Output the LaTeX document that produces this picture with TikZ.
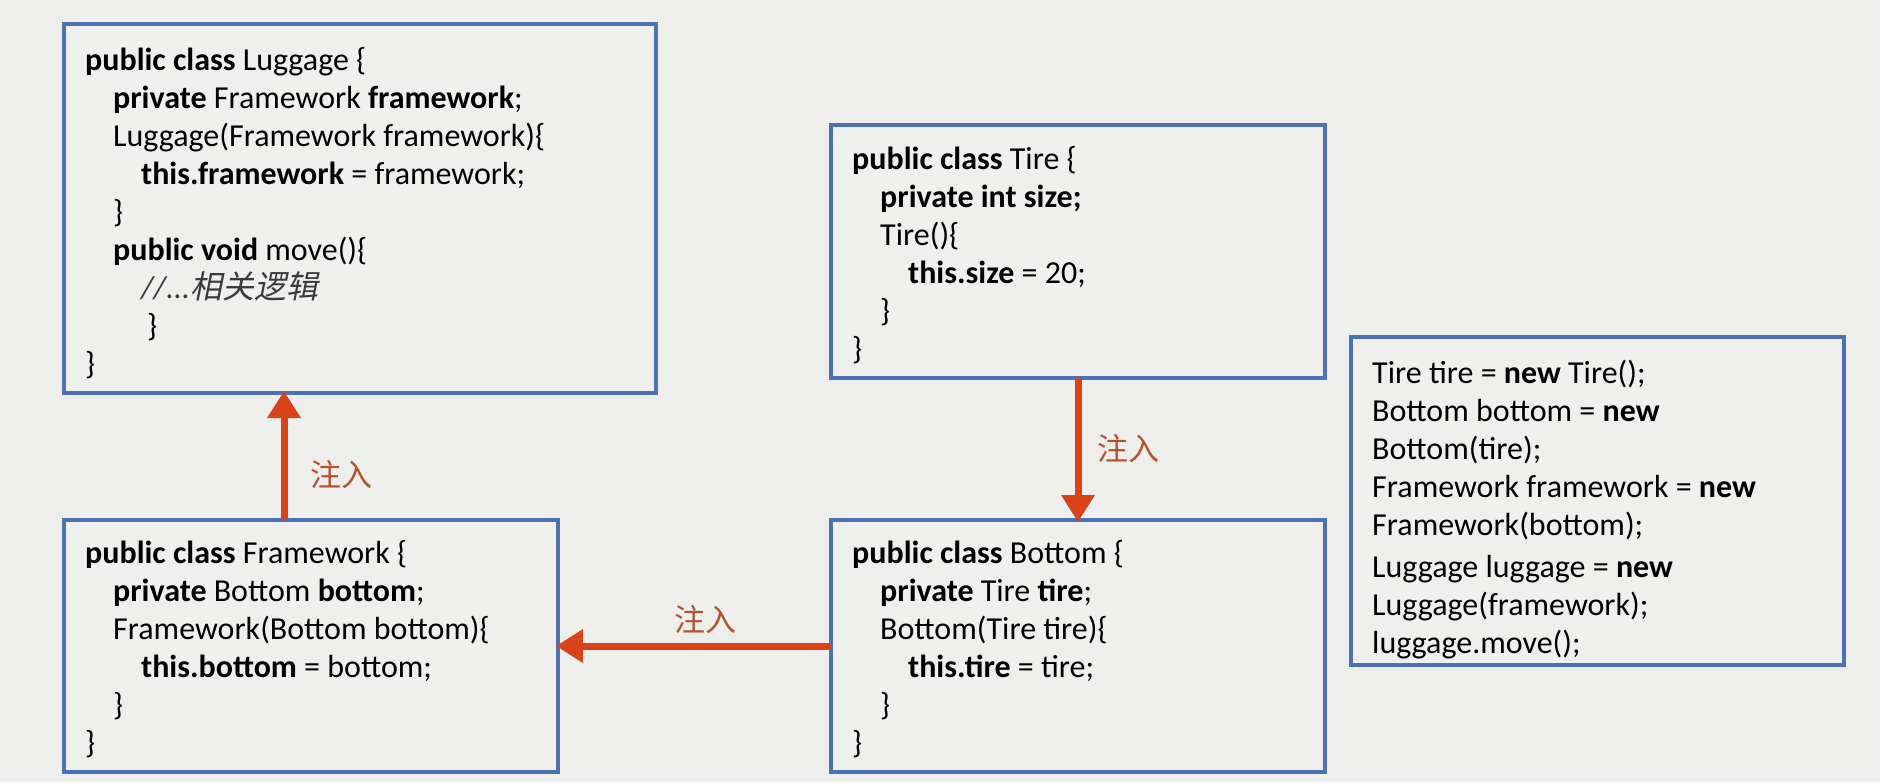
\documentclass[tikz,border=0pt]{standalone}
\usepackage{fontspec}
\setmainfont{Carlito}
\newfontfamily\cjk{Noto Sans CJK SC}
\newfontfamily\cjkit[FakeSlant=0.2]{Noto Sans CJK SC}
\usetikzlibrary{arrows.meta}
\definecolor{bg}{HTML}{EEEEEC}
\definecolor{boxfill}{HTML}{EFEFED}
\definecolor{boxblue}{HTML}{4A72B6}
\definecolor{arrowred}{HTML}{D8431A}
\definecolor{lblcol}{HTML}{B4532F}
\definecolor{cmt}{HTML}{3A3A3A}
\newcommand\myind{\hspace*{28pt}}
\tikzset{
  codebox/.style={draw=boxblue, line width=3.5pt, fill=boxfill, inner sep=0pt, outer sep=0pt, anchor=north west},
  code/.style={anchor=north west, inner sep=0pt, align=left, font=\fontsize{32}{38}\selectfont, text=black},
  inject/.style={draw=arrowred, line width=7pt, -{Triangle[width=32pt,length=27pt]}, shorten >=-2pt},
  lbl/.style={font=\cjk\fontsize{31}{31}\selectfont, text=lblcol, inner sep=0pt}
}
\begin{document}
\begin{tikzpicture}[x=1pt,y=-1pt]
\fill[bg] (0,0) rectangle (1880,782);
\useasboundingbox (0,0) rectangle (1880,782);

% boxes
\node[codebox, minimum width=592pt, minimum height=369pt] (lug) at (64,24) {};
\node[codebox, minimum width=494pt, minimum height=253pt] (tire) at (831,125) {};
\node[codebox, minimum width=493pt, minimum height=328pt] (main) at (1351,337) {};
\node[codebox, minimum width=494pt, minimum height=252pt] (fw) at (64,520) {};
\node[codebox, minimum width=494pt, minimum height=252pt] (bot) at (831,520) {};

% code texts
\node[code] (lugtxt) at (85,44) {\rule{0pt}{26pt}\textbf{public class} Luggage \{\\
\myind\textbf{private} Framework \textbf{framework};\\
\myind Luggage(Framework framework)\{\\
\myind\myind\textbf{this.framework} = framework;\\
\myind\}\\
\myind\textbf{public void} move()\{\\
\myind\myind{\color{cmt}\itshape//...\cjkit 相关逻辑}\\
\myind\myind\hspace*{6pt}\}\\
\}};

\node[code] (tiretxt) at (852,143) {\rule{0pt}{26pt}\textbf{public class} Tire \{\\
\myind\textbf{private int size;}\\
\myind Tire()\{\\
\myind\myind\textbf{this.size} = 20;\\
\myind\}\\
\}};

\node[code] (fwtxt) at (85,537) {\rule{0pt}{26pt}\textbf{public class} Framework \{\\
\myind\textbf{private} Bottom \textbf{bottom};\\
\myind Framework(Bottom bottom)\{\\
\myind\myind\textbf{this.bottom} = bottom;\\
\myind\}\\
\}};

\node[code] (bottxt) at (852,537) {\rule{0pt}{26pt}\textbf{public class} Bottom \{\\
\myind\textbf{private} Tire \textbf{tire};\\
\myind Bottom(Tire tire)\{\\
\myind\myind\textbf{this.tire} = tire;\\
\myind\}\\
\}};

\node[code] (maintxt) at (1372,357) {\rule{0pt}{26pt}Tire tire = \textbf{new} Tire();\\
Bottom bottom = \textbf{new}\\
Bottom(tire);\\
Framework framework = \textbf{new}\\
Framework(bottom);\\[4pt]
Luggage luggage = \textbf{new}\\
Luggage(framework);\\
luggage.move();};

% connectors
\coordinate (upx) at (284,0);
\draw[inject] (fw.north -| upx) -- (lug.south -| upx);
\draw[inject] (tire.south) -- (bot.north);
\draw[inject] (bot.west) -- (fw.east);

% labels
\node[lbl] (l1) at (341,475) {注入};
\node[lbl] (l2) at (1128,449) {注入};
\node[lbl] (l3) at (705,620) {注入};
\end{tikzpicture}
\end{document}
